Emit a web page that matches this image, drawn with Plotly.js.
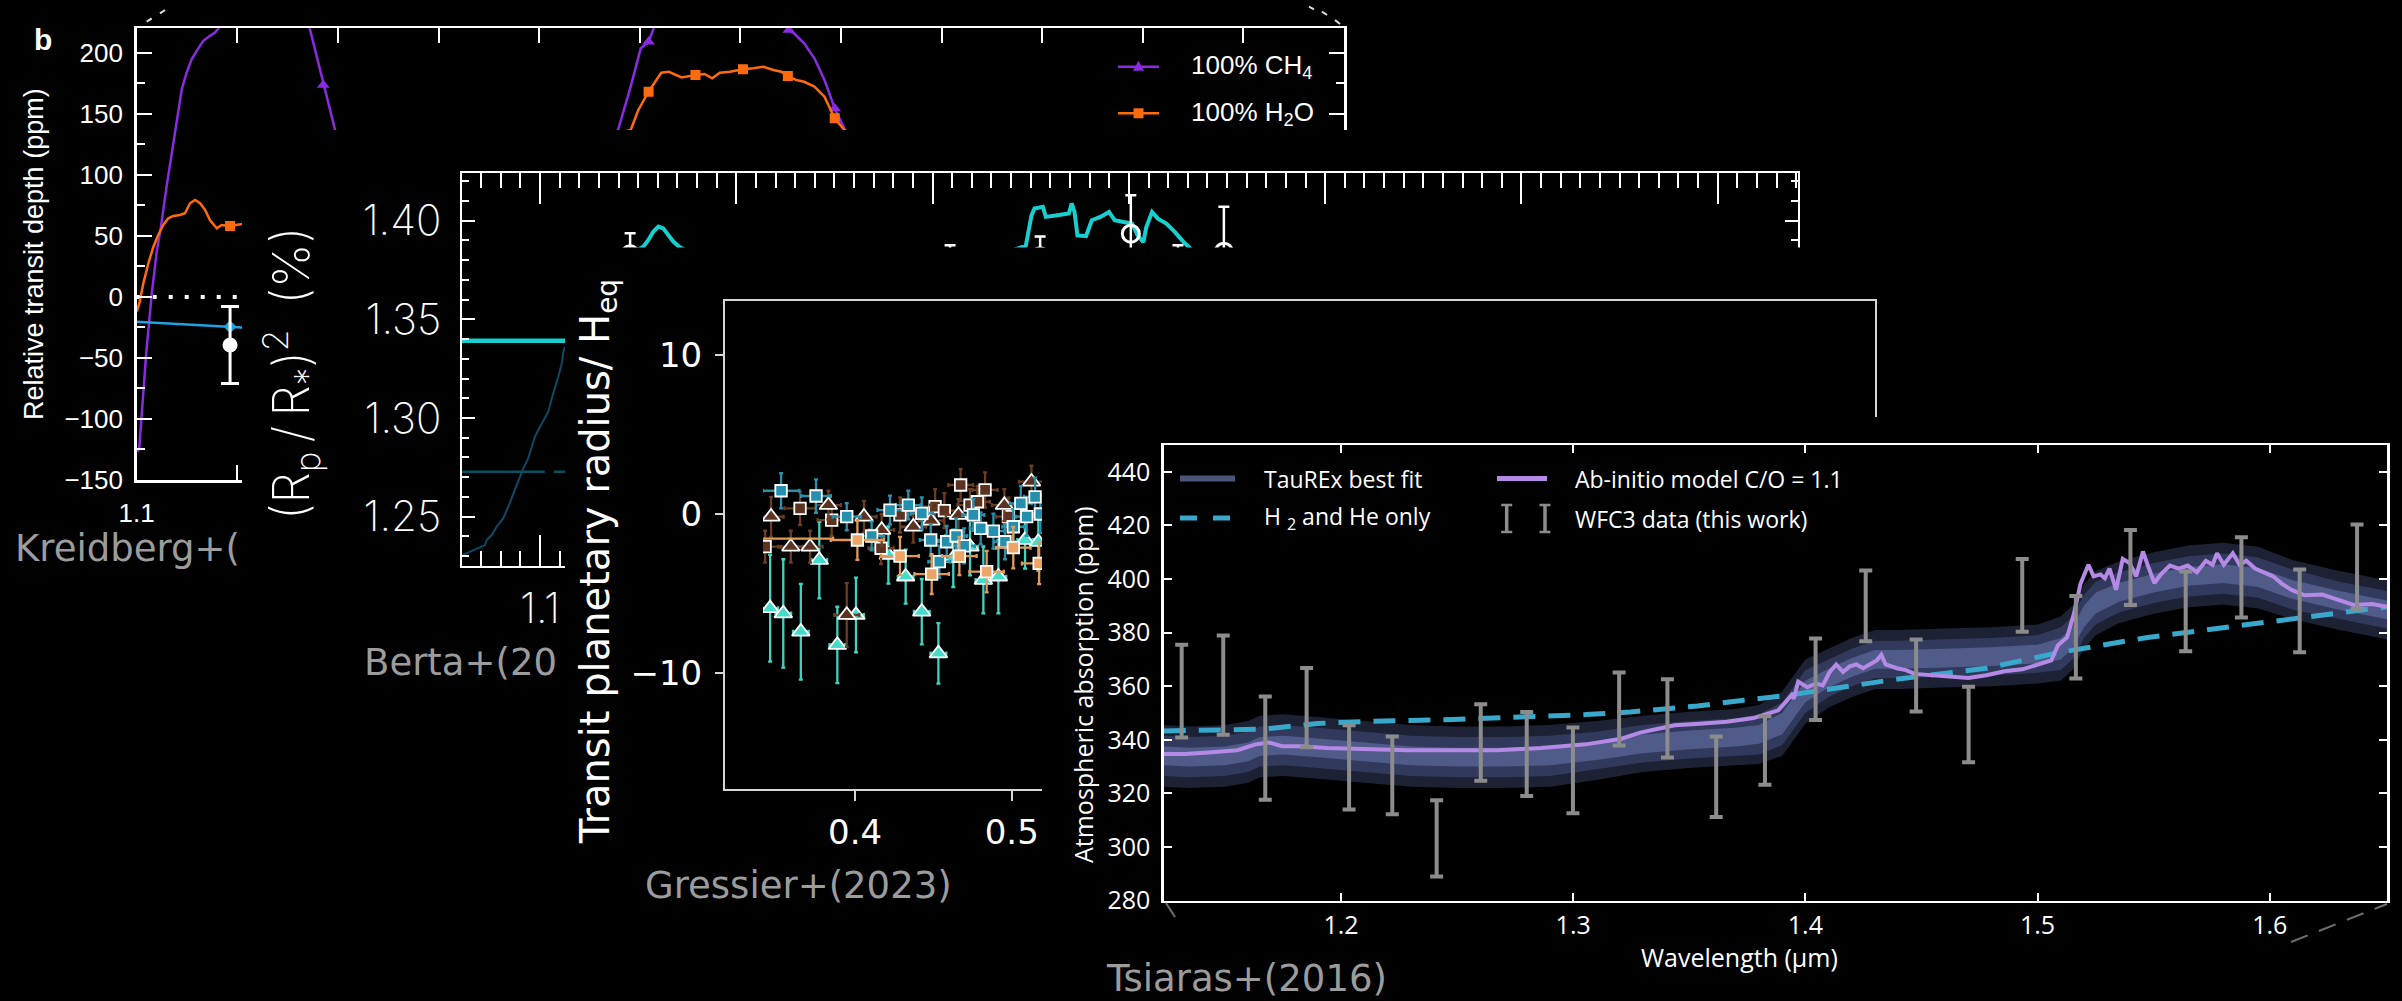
<!DOCTYPE html>
<html>
<head>
<meta charset="utf-8">
<script src="https://cdn.plot.ly/plotly-3.0.1.min.js"></script>
<style>
  html, body { margin: 0; padding: 0; background: #000; }
  #chart { width: 2402px; height: 1001px; }
</style>
</head>
<body>
<div id="chart"></div>
<script>
// ===================== Kreidberg+ (2014): relative transit depth (ppm) =====================
const kCh4X = [1.1005, 1.1013, 1.1046, 1.1061, 1.1074, 1.1099, 1.1121, 1.1149, 1.1182, 1.1224, 1.1248, 1.1273, 1.1298, 1.1331, 1.1364, 1.1389, 1.1406,
               1.152, 1.165, 1.178,
               1.1861, 1.1895, 1.1927, 1.1961, 1.1986,
               1.22, 1.30,
               1.3392, 1.3455, 1.3505, 1.3544, 1.3569,
               1.37, 1.39, 1.41,
               1.4241, 1.4266, 1.4317, 1.4368, 1.4418, 1.4469, 1.4520, 1.47];
const kCh4Y = [-127, -123.3, -48.8, -19.6, 1.4, 36.3, 58.2, 90.9, 126.4, 170.1, 183.7, 194.6, 201.5, 209.7, 213.8, 216.5, 219.8,
               248, 262, 244,
               219.2, 196.7, 173.5, 153, 136.7,
               90, 95,
               136.7, 172.2, 203.6, 209, 220,
               250, 262, 248,
               218.6, 215.9, 207.7, 195.4, 177.6, 154.4, 136.7, 110];
const kCh4MarkX = [1.1927, 1.3544, 1.4241, 1.4469];
const kCh4MarkY = [173.5, 209, 218.6, 154.4];

const kH2oX = [1.1000, 1.1013, 1.1033, 1.1058, 1.1083, 1.1107, 1.1132, 1.1157, 1.1182, 1.1215, 1.1240, 1.1265, 1.1290, 1.1315, 1.1340, 1.1364, 1.1398, 1.1422, 1.1464, 1.1522,
               1.3455, 1.3493, 1.3544, 1.3582, 1.3607, 1.3645, 1.3683, 1.3708, 1.3777, 1.3822, 1.3860, 1.3898, 1.3949, 1.4013, 1.4064, 1.4114, 1.4165, 1.4203, 1.4236, 1.4279, 1.4317, 1.4368, 1.4418, 1.4469, 1.4520, 1.46];
const kH2oY = [-12, -5.3, 11.1, 27.5, 41.1, 50.7, 58.9, 64.4, 66.3, 67.1, 68.5, 76.7, 79.4, 76.7, 71.2, 63, 56.2, 58.9, 58, 59.7,
               136.7, 153.1, 168.1, 177.6, 183.6, 184.4, 181.7, 179.8, 181.7, 182.6, 179, 183.6, 184.4, 186.4, 187.2, 188.5, 185.8, 184.4, 180.9, 177.6, 176.2, 172.2, 164, 146.3, 136.1, 120];
const kH2oMarkX = [1.1464, 1.3544, 1.3777, 1.4013, 1.4236, 1.4469];
const kH2oMarkY = [58, 168.1, 181.7, 186.4, 180.9, 146.3];

const kFlatX = [1.1000, 1.1464, 1.1522, 1.17];
const kFlatY = [-20.3, -24.5, -25, -25.5];
const kFlatMarkX = [1.1464];
const kFlatMarkY = [-24.5];

const kDataX = [1.1464];
const kDataY = [-39.4];
const kDataErr = [31.6];

const kZeroX = [1.1, 1.7];
const kZeroY = [0, 0];

const kXTickVals = [1.1];
const kXTickText = ['1.1'];

// ===================== Berta+ (2012): (Rp/R*)^2 in % =====================
const bFlatX = [1.0601, 1.2];
const bFlatY = [1.3392, 1.3392];
const bRefX = [1.0601, 1.2];
const bRefY = [1.2728, 1.2728];
const bRiseX = [1.0606, 1.0643, 1.0686, 1.0720, 1.0728, 1.0754, 1.0779, 1.0813, 1.0838, 1.0864, 1.0889, 1.0915, 1.0940, 1.0957, 1.0974, 1.1000, 1.1025, 1.1042, 1.1060, 1.1076, 1.1093, 1.1111, 1.1119, 1.1127];
const bRiseY = [1.2306, 1.2322, 1.2340, 1.2356, 1.2382, 1.2407, 1.2449, 1.2492, 1.2550, 1.2618, 1.2686, 1.2745, 1.2796, 1.2855, 1.2905, 1.2956, 1.2998, 1.3032, 1.3100, 1.3150, 1.3209, 1.3277, 1.3336, 1.3361];
const bModelX = [1.125, 1.1526, 1.1552, 1.1577, 1.1603, 1.1628, 1.1653, 1.1679, 1.1713, 1.20, 1.30,
                 1.3475, 1.3504, 1.3519, 1.3562, 1.3577, 1.3636, 1.3694, 1.3709, 1.3723, 1.3738, 1.3782, 1.3811, 1.3855, 1.3899, 1.3928, 1.3972, 1.4016, 1.4045, 1.4074, 1.4089, 1.4118, 1.4148, 1.4191, 1.4235, 1.4279, 1.44];
const bModelY = [1.372, 1.3868, 1.3902, 1.3944, 1.3970, 1.3961, 1.3928, 1.3894, 1.3865, 1.372, 1.370,
                 1.3874, 1.4027, 1.4061, 1.4070, 1.4019, 1.4027, 1.4036, 1.4087, 1.4044, 1.3925, 1.3922, 1.4002, 1.4019, 1.4044, 1.4002, 1.3993, 1.3985, 1.3925, 1.3891, 1.3968, 1.4044, 1.4010, 1.3985, 1.3942, 1.3891, 1.378];
const bDataX = [1.1459, 1.3089, 1.3548, 1.4010, 1.4250, 1.4484];
const bDataY = [1.3830, 1.3780, 1.3820, 1.3934, 1.3780, 1.3843];
const bDataErr = [0.0106, 0.0095, 0.0100, 0.0195, 0.0095, 0.0227];

const bXTickVals = [1.1, 1.2, 1.3, 1.4, 1.5, 1.6, 1.7];
const bXTickText = ['1.1', '', '', '', '', '', ''];

// ===================== Gressier+ (2023): transit radius in scale heights =====================
const gTurqX = [0.3458, 0.3542, 0.3654, 0.3772, 0.3887, 0.4006, 0.4213, 0.4323, 0.4426, 0.4532, 0.4627, 0.4734, 0.4819, 0.4915, 0.5085, 0.5170];
const gTurqY = [-5.92, -6.24, -7.39, -2.89, -8.22, -6.34, -2.57, -3.93, -6.13, -8.75, -2.78, -2.05, -4.14, -3.93, -1.63, -1.76];
const gTurqEy = [3.35, 3.4, 3.0, 2.4, 2.4, 2.35, 1.8, 1.7, 2.05, 1.9, 1.8, 1.8, 2.1, 2.3, 1.8, 1.8];
const gTurqEx = [0.005, 0.005, 0.005, 0.005, 0.005, 0.005, 0.005, 0.005, 0.005, 0.005, 0.005, 0.005, 0.005, 0.005, 0.005, 0.005];

const gBrownSqX = [0.3426, 0.3649, 0.3851, 0.4166, 0.4287, 0.4511, 0.4570, 0.4674, 0.4734, 0.4781, 0.4830, 0.4979];
const gBrownSqY = [-2.05, 0.36, -0.38, -2.15, -0.06, 0.46, 0.21, 1.82, 0.56, 0.77, 1.51, -0.17];
const gBrownSqEy = [1.0, 1.05, 1.0, 1.0, 1.1, 1.1, 1.1, 1.0, 1.0, 1.0, 1.1, 1.2];
const gBrownSqEx = [0.010, 0.010, 0.009, 0.008, 0.008, 0.008, 0.008, 0.008, 0.008, 0.008, 0.008, 0.008];

const gBrownTriX = [0.3464, 0.3590, 0.3713, 0.3830, 0.3947, 0.4057, 0.4170, 0.4372, 0.4485, 0.4660, 0.4953, 0.5126];
const gBrownTriY = [-0.17, -2.05, -2.05, 0.56, -6.34, -0.17, -1.00, -0.80, -0.42, -0.06, 0.56, 2.03];
const gBrownTriEy = [1.25, 1.0, 1.0, 0.9, 2.0, 1.0, 1.0, 1.0, 1.0, 1.0, 1.0, 1.0];
const gBrownTriEx = [0.008, 0.008, 0.008, 0.008, 0.008, 0.008, 0.008, 0.008, 0.008, 0.008, 0.008, 0.008];

const gTealX = [0.3528, 0.3751, 0.3947, 0.4106, 0.4223, 0.4340, 0.4426, 0.4483, 0.4538, 0.4585, 0.4645, 0.4696, 0.4755, 0.4802, 0.4883, 0.4957, 0.5010, 0.5058, 0.5096, 0.5149, 0.5183];
const gTealY = [1.46, 1.13, -0.17, -1.38, 0.25, 0.56, 0.04, -1.63, -2.99, -1.74, -1.38, -2.00, -0.06, -0.90, -1.07, -1.74, -0.80, 0.67, -0.17, 1.08, 0.00];
const gTealEy = [1.1, 1.05, 0.85, 0.9, 0.9, 0.9, 1.0, 1.0, 1.0, 1.0, 1.1, 1.1, 1.0, 1.0, 1.1, 1.1, 1.1, 1.1, 1.2, 1.2, 1.2];
const gTealEx = [0.0117, 0.0095, 0.009, 0.008, 0.008, 0.008, 0.007, 0.007, 0.007, 0.007, 0.007, 0.007, 0.007, 0.007, 0.007, 0.007, 0.007, 0.007, 0.007, 0.007, 0.007];

const gOrangeX = [0.330, 0.4015, 0.4287, 0.4489, 0.4666, 0.4840, 0.5010, 0.5175];
const gOrangeY = [-1.55, -1.63, -2.64, -3.77, -2.64, -3.62, -2.11, -3.10];
const gOrangeEy = [1.0, 1.25, 1.2, 1.25, 1.2, 1.3, 1.3, 1.3];
const gOrangeEx = [0.056, 0.017, 0.012, 0.011, 0.011, 0.011, 0.011, 0.011];

const gXTickVals = [0.4, 0.5];
const gXTickText = ['0.4', '0.5'];

// ===================== Tsiaras+ (2016): atmospheric absorption (ppm) =====================
const tauX   = [1.1237, 1.135, 1.15, 1.16, 1.165, 1.175, 1.19, 1.21, 1.23, 1.25, 1.27, 1.29, 1.31, 1.33, 1.35, 1.37, 1.38, 1.39, 1.395, 1.40, 1.41, 1.42, 1.43, 1.44, 1.46, 1.48, 1.50, 1.51, 1.515, 1.52, 1.525, 1.535, 1.55, 1.565, 1.58, 1.595, 1.61, 1.63, 1.6505];
const tauMid = [334, 333.5, 334, 335.5, 337.5, 338, 337, 335.5, 334, 333.5, 333.5, 334, 336, 338.5, 340, 341, 342, 346, 352, 358, 363, 367, 370, 370, 370.5, 371, 372, 374, 378, 386, 391, 395, 398.5, 401, 402, 400.5, 396, 392, 388.5];
const tauW1  = [3.5, 3.5, 3.5, 3.5, 3.5, 3.5, 3.5, 3.5, 3.5, 3.5, 3.5, 3.5, 3.5, 3.5, 3.5, 3.5, 3.5, 4, 4, 4, 3.5, 3.5, 3.5, 3.5, 3.5, 3.5, 3.5, 4, 4, 4, 4, 3.5, 3.5, 3.5, 3.5, 3.5, 3.5, 3.5, 3.5];
const tauW2  = [7.5, 7.5, 7.5, 7.5, 7.5, 7.5, 7.5, 7.5, 7.5, 7.5, 7.5, 7.5, 7, 7, 7, 7, 7.5, 8, 8, 8, 7, 7, 7, 7, 7, 7, 7, 8, 8, 8, 8, 7.5, 7.5, 7.5, 7.5, 7.5, 7.5, 7, 7];
const tauW3  = [11.5, 11.5, 11.5, 11.5, 11.5, 11.5, 11.5, 11.5, 11.5, 11.5, 11.5, 11.5, 11, 10.5, 10.5, 10.5, 11, 12, 12, 12, 11, 11, 11, 11, 11, 11, 11, 12, 12, 12, 12, 11.5, 11.5, 11.5, 11.5, 11.5, 11, 11, 11];

const abX = [1.1237, 1.1328, 1.1415, 1.1554, 1.1632, 1.1690, 1.1746, 1.1824, 1.1939, 1.2093, 1.2285, 1.2478, 1.2670, 1.2862, 1.3054, 1.3208, 1.3285, 1.3361, 1.3438, 1.3545, 1.3662, 1.3777, 1.3835, 1.3883, 1.3912, 1.3941, 1.3950, 1.3969, 1.4008, 1.4046, 1.4075, 1.4105, 1.4133, 1.4162, 1.4191, 1.4220, 1.4249, 1.4278, 1.4307, 1.4327, 1.4346, 1.4394, 1.4433, 1.4471, 1.4548, 1.4625, 1.4702, 1.4780, 1.4857, 1.4934, 1.5011, 1.5059, 1.5088, 1.5127, 1.5156, 1.5185, 1.5219, 1.5242, 1.5271, 1.5290, 1.5310, 1.5338, 1.5367, 1.5396, 1.5425, 1.5454, 1.5474, 1.5503, 1.5531, 1.5570, 1.5609, 1.5647, 1.5686, 1.5725, 1.5754, 1.5773, 1.5802, 1.5841, 1.5870, 1.5899, 1.5937, 1.5976, 1.6014, 1.6053, 1.6092, 1.6150, 1.6227, 1.6285, 1.6362, 1.6441, 1.6505];
const abY = [334.7, 334.7, 335.2, 336.1, 338.3, 339.0, 337.6, 337.6, 336.9, 336.6, 336.1, 336.1, 336.1, 336.9, 338.3, 340.4, 342.6, 344.0, 345.4, 346.0, 346.7, 348.1, 349.5, 351.0, 353.8, 356.7, 355.3, 361.7, 359.6, 361.0, 360.3, 365.3, 368.1, 365.3, 367.4, 368.1, 366.7, 368.1, 369.6, 371.7, 368.1, 366.7, 366.0, 364.6, 364.1, 363.8, 363.1, 364.1, 365.6, 366.3, 368.1, 369.6, 375.3, 378.2, 386.8, 398.2, 405.3, 401.0, 401.7, 400.3, 403.9, 396.0, 407.5, 406.0, 401.0, 410.3, 405.3, 398.5, 401.7, 405.0, 403.9, 405.0, 402.5, 406.8, 405.3, 409.6, 405.3, 409.6, 405.3, 406.8, 403.9, 402.5, 401.0, 398.2, 396.0, 393.9, 394.2, 392.5, 390.3, 390.7, 389.6];

const h2X = [1.1237, 1.167, 1.19, 1.2093, 1.2478, 1.2766, 1.3054, 1.3246, 1.3535, 1.3727, 1.3932, 1.4375, 1.478, 1.5088, 1.5474, 1.586, 1.6245, 1.6505];
const h2Y = [343.3, 344.0, 346.1, 346.8, 347.6, 348.3, 349.4, 350.4, 352.6, 354.7, 356.7, 362.4, 366.7, 372.5, 378.2, 382.5, 386.8, 389.6];

const tErrX = [1.1314, 1.1493, 1.1674, 1.1852, 1.2035, 1.2221, 1.2412, 1.2602, 1.2800, 1.2999, 1.3198, 1.3406, 1.3616, 1.3826, 1.4044, 1.4260, 1.4477, 1.4703, 1.4934, 1.5165, 1.5400, 1.5638, 1.5878, 1.6129, 1.6376];
const tErrY = [358.2, 360.4, 336.9, 352.0, 329.7, 326.7, 303.2, 339.0, 334.7, 328.6, 351.5, 348.0, 326.2, 336.0, 362.6, 390.0, 364.0, 345.7, 393.9, 378.3, 404.3, 387.9, 400.6, 388.1, 404.6];
const tErrSize = [17.3, 18.5, 19.3, 14.8, 15.7, 14.5, 14.2, 14.3, 15.7, 16.0, 13.6, 14.6, 15.0, 12.8, 15.2, 13.2, 13.4, 14.1, 13.6, 15.4, 14.0, 14.9, 15.0, 15.4, 15.7];

// ===================== page geometry helpers (pixels -> paper fractions) =====================
const W = 2402, H = 1001;
const px = v => v / W;
const py = v => 1 - v / H;
function box(l, t, r, b) { return { x: [px(l), px(r)], y: [py(b), py(t)] }; }

// panel boxes; the "cover" boxes are blank panels that hide what lies behind the next panel
const kBox   = box(136.7, 28.3, 1344, 480);
const bCover = box(242, 130, W, H);
const bBox   = box(461.7, 172.7, 1798, 566);
const gCover = box(565, 247.5, W, H);
const gBoxPx = { l: 725, t: 301, r: 1875, b: 789 };
const gBox   = box(gBoxPx.l, gBoxPx.t, gBoxPx.r, gBoxPx.b);
const gClipPx = { l: 763, t: 462, r: 1042, b: 700 };
const gClip  = box(gClipPx.l, gClipPx.t, gClipPx.r, gClipPx.b);
const tCover = box(1042, 417, W, H);
const tBox   = box(1163.8, 445, 2387, 900.6);

const kXRange = [1.1, 1.7], kYRange = [-150, 220];
const bXRange = [1.0601, 1.7409], bYRange = [1.225, 1.4243];
const gXRange = [0.317, 1.051], gYRange = [-17.26, 13.37];
const tXRange = [1.1237, 1.6505], tYRange = [280, 450];

// the Gressier points sit in a cropped window of the panel, so that window gets its own axes on the same scale
const gxAt = p => gXRange[0] + (p - gBoxPx.l) / (gBoxPx.r - gBoxPx.l) * (gXRange[1] - gXRange[0]);
const gyAt = p => gYRange[1] - (p - gBoxPx.t) / (gBoxPx.b - gBoxPx.t) * (gYRange[1] - gYRange[0]);
const gClipXRange = [gxAt(gClipPx.l), gxAt(gClipPx.r)];
const gClipYRange = [gyAt(gClipPx.b), gyAt(gClipPx.t)];

// ===================== styles =====================
const FONT_K = 'Liberation Sans, Arial, sans-serif';
const FONT_B = 'DejaVu Sans ExtraLight, Inter, DejaVu Sans, sans-serif';
const FONT_G = 'DejaVu Sans, sans-serif';
const FONT_T = 'Open Sans, Noto Sans, sans-serif';
const FONT_REF = 'DejaVu Sans, sans-serif';

const PURPLE = '#8a2be2', ORANGE = '#ff6a0d', SKY = '#1ea2e2';
const CYAN = '#17cfcf', DEEPTEAL = '#0b4f5e', DEEPBLUE = '#0c4a66';
const TURQ = '#43dcca', BROWN = '#5b3320', TEAL = '#2490ae', SAND = '#eca566';
const BAND1 = '#505b8a', BAND2 = '#313a5c', BAND3 = '#1c2133';
const LAVENDER = '#b48ae6', DASHBLUE = '#38a8cc', ERRGRAY = '#8c8c8c';

function blank(id) {
  return { type: 'scatter', x: [], y: [], xaxis: 'x' + id, yaxis: 'y' + id, showlegend: false, hoverinfo: 'skip' };
}
function hiddenAxis(domain, anchor) {
  return { domain: domain, anchor: anchor, visible: false, range: [0, 1], fixedrange: true };
}
function boxAxis(extra) {
  return Object.assign({
    showline: true, linecolor: '#ffffff', linewidth: 2.5, mirror: 'allticks',
    ticks: 'inside', tickcolor: '#ffffff', tickwidth: 2,
    showgrid: false, zeroline: false, fixedrange: true
  }, extra);
}

// ===================== traces =====================
const traces = [];

// Kreidberg panel (xy)
traces.push({ x: kZeroX, y: kZeroY, xaxis: 'x', yaxis: 'y', mode: 'lines', line: { color: '#ffffff', width: 4, dash: '4px,12px' } });
traces.push({ x: kCh4X, y: kCh4Y, xaxis: 'x', yaxis: 'y', mode: 'lines', line: { color: PURPLE, width: 2.5 } });
traces.push({ x: kCh4MarkX, y: kCh4MarkY, xaxis: 'x', yaxis: 'y', mode: 'markers', marker: { symbol: 'triangle-up', size: 11, color: PURPLE } });
traces.push({ x: kH2oX, y: kH2oY, xaxis: 'x', yaxis: 'y', mode: 'lines', line: { color: ORANGE, width: 2.5 } });
traces.push({ x: kH2oMarkX, y: kH2oMarkY, xaxis: 'x', yaxis: 'y', mode: 'markers', marker: { symbol: 'square', size: 10, color: ORANGE } });
traces.push({ x: kFlatX, y: kFlatY, xaxis: 'x', yaxis: 'y', mode: 'lines', line: { color: SKY, width: 2.5 } });
traces.push({ x: kFlatMarkX, y: kFlatMarkY, xaxis: 'x', yaxis: 'y', mode: 'markers', marker: { symbol: 'diamond', size: 10, color: SKY } });
traces.push({ x: kDataX, y: kDataY, xaxis: 'x', yaxis: 'y', mode: 'markers',
  marker: { symbol: 'circle', size: 15, color: '#ffffff' },
  error_y: { type: 'data', array: kDataErr, color: '#ffffff', thickness: 3, width: 9 } });

// blank panel hiding the Kreidberg plot behind Berta
traces.push(blank(2));

// Berta panel (x3y3)
traces.push({ x: bRiseX, y: bRiseY, xaxis: 'x3', yaxis: 'y3', mode: 'lines', line: { color: DEEPBLUE, width: 2 } });
traces.push({ x: bRefX, y: bRefY, xaxis: 'x3', yaxis: 'y3', mode: 'lines', line: { color: DEEPTEAL, width: 2.5, dash: '83px,9px' } });
traces.push({ x: bFlatX, y: bFlatY, xaxis: 'x3', yaxis: 'y3', mode: 'lines', line: { color: CYAN, width: 4.5 } });
traces.push({ x: bModelX, y: bModelY, xaxis: 'x3', yaxis: 'y3', mode: 'lines', line: { color: CYAN, width: 4 } });
traces.push({ x: bDataX, y: bDataY, xaxis: 'x3', yaxis: 'y3', mode: 'markers',
  marker: { symbol: 'circle-open', size: 17, color: '#ffffff', line: { width: 3, color: '#ffffff' } },
  error_y: { type: 'data', array: bDataErr, color: '#ffffff', thickness: 2.5, width: 5.5 } });

// blank panel hiding Berta behind Gressier
traces.push(blank(4));
// Gressier frame (x5y5)
traces.push(blank(5));

// Gressier points (x6y6, cropped window)
function gSeries(x, y, ex, ey, symbol, size, fill, barColor) {
  return { x: x, y: y, xaxis: 'x6', yaxis: 'y6', mode: 'markers',
    marker: { symbol: symbol, size: size, color: fill, line: { color: '#ffffff', width: 1.8 } },
    error_y: { type: 'data', array: ey, color: barColor, thickness: 2.3, width: 2 },
    error_x: { type: 'data', array: ex, color: barColor, thickness: 2.3, width: 2 } };
}
traces.push(gSeries(gTurqX, gTurqY, gTurqEx, gTurqEy, 'triangle-up', 15.5, TURQ, '#3fd3c2'));
traces.push(gSeries(gBrownSqX, gBrownSqY, gBrownSqEx, gBrownSqEy, 'square', 11.5, BROWN, '#6a3d24'));
traces.push(gSeries(gBrownTriX, gBrownTriY, gBrownTriEx, gBrownTriEy, 'triangle-up', 15.5, BROWN, '#6a3d24'));
traces.push(gSeries(gTealX, gTealY, gTealEx, gTealEy, 'square', 11.5, TEAL, '#2a8fab'));
traces.push(gSeries(gOrangeX, gOrangeY, gOrangeEx, gOrangeEy, 'square', 11.5, SAND, '#e39a58'));

// blank panel hiding Gressier behind Tsiaras
traces.push(blank(7));

// Tsiaras panel (x8y8): retrieval bands from widest to narrowest
function band(w, color) {
  const lo = tauMid.map((m, i) => m - w[i]);
  const hi = tauMid.map((m, i) => m + w[i]);
  traces.push({ x: tauX, y: lo, xaxis: 'x8', yaxis: 'y8', mode: 'lines', line: { width: 0, color: color }, fill: 'none' });
  traces.push({ x: tauX, y: hi, xaxis: 'x8', yaxis: 'y8', mode: 'lines', line: { width: 0, color: color }, fill: 'tonexty', fillcolor: color });
}
band(tauW3, BAND3);
band(tauW2, BAND2);
band(tauW1, BAND1);
traces.push({ x: h2X, y: h2Y, xaxis: 'x8', yaxis: 'y8', mode: 'lines', line: { color: DASHBLUE, width: 5, dash: '22px,13px' } });
traces.push({ x: abX, y: abY, xaxis: 'x8', yaxis: 'y8', mode: 'lines', line: { color: LAVENDER, width: 4 } });
traces.push({ x: tErrX, y: tErrY, xaxis: 'x8', yaxis: 'y8', mode: 'markers',
  marker: { size: 1, color: 'rgba(0,0,0,0)' },
  error_y: { type: 'data', array: tErrSize, color: ERRGRAY, thickness: 4, width: 6.5 } });

traces.forEach(t => { t.showlegend = false; t.hoverinfo = 'skip'; });

// ===================== text and legend glyphs =====================
function label(text, x, y, font, extra) {
  return Object.assign({ text: text, x: px(x), y: py(y), xref: 'paper', yref: 'paper', showarrow: false,
    font: font, xanchor: 'center', yanchor: 'middle' }, extra || {});
}
function seg(x0, y0, x1, y1, line) {
  return { type: 'line', xref: 'paper', yref: 'paper', layer: 'above', x0: px(x0), y0: py(y0), x1: px(x1), y1: py(y1), line: line };
}
function tri(cx, cy, s, color) {
  const h = s * 0.9;
  return { type: 'path', xref: 'paper', yref: 'paper', layer: 'above', fillcolor: color, line: { width: 0 },
    path: 'M' + px(cx) + ',' + py(cy - h * 0.6) + ' L' + px(cx - s / 2) + ',' + py(cy + h * 0.4) + ' L' + px(cx + s / 2) + ',' + py(cy + h * 0.4) + ' Z' };
}
function sq(cx, cy, s, color) {
  return { type: 'rect', xref: 'paper', yref: 'paper', layer: 'above', fillcolor: color, line: { width: 0 },
    x0: px(cx - s / 2), x1: px(cx + s / 2), y0: py(cy + s / 2), y1: py(cy - s / 2) };
}
function ibeam(x, y0, y1, color) {
  return [seg(x, y0, x, y1, { color: color, width: 3.5 }),
          seg(x - 5.5, y0, x + 5.5, y0, { color: color, width: 2.5 }),
          seg(x - 5.5, y1, x + 5.5, y1, { color: color, width: 2.5 })];
}

const white = (size, family) => ({ family: family, size: size, color: '#ffffff' });
const refFont = { family: FONT_REF, size: 37, color: '#9c9c9c' };
const bFont = (size) => ({ family: FONT_B, size: size, color: '#ffffff', weight: 200 });

const annotations = [
  label('<b>b</b>', 43, 40, white(30, FONT_K)),
  label('Relative transit depth (ppm)', 34, 254, white(27, FONT_K), { textangle: -90 }),
  label('100% CH<sub>4</sub>', 1189, 66.7, white(26, FONT_K), { xanchor: 'left' }),
  label('100% H<sub>2</sub>O', 1189, 113.3, white(26, FONT_K), { xanchor: 'left' }),
  label('Kreidberg+(', 13, 548, refFont, { xanchor: 'left' }),

  label('(R<sub>p</sub>\u2009/\u2009R<sub>*</sub>)<sup>2</sup>\u2002(%)', 291, 374, bFont(50), { textangle: -90 }),
  label('Berta+(20', 362, 662, refFont, { xanchor: 'left' }),

  label('Transit planetary radius/ H<sub>eq</sub>', 598, 562, white(40, FONT_G), { textangle: -90 }),
  label('Gressier+(2023)', 643, 885, refFont, { xanchor: 'left' }),

  label('Atmospheric absorption (ppm)', 1083, 685, white(25, FONT_T), { textangle: -90 }),
  label('Wavelength (µm)', 1739, 957, white(25, FONT_T)),
  label('TauREx best fit', 1261.7, 479, white(23, FONT_T), { xanchor: 'left' }),
  label('H <sub>2</sub> and He only', 1261.7, 517, white(23, FONT_T), { xanchor: 'left' }),
  label('Ab-initio model C/O = 1.1', 1573.3, 479, white(23, FONT_T), { xanchor: 'left' }),
  label('WFC3 data (this work)', 1573.3, 519, white(23, FONT_T), { xanchor: 'left' }),
  label('Tsiaras+(2016)', 1104, 978, refFont, { xanchor: 'left' })
];

const shapes = [
  // Kreidberg legend glyphs
  seg(1118, 66.7, 1159, 66.7, { color: PURPLE, width: 2.5 }),
  tri(1138.5, 66.7, 11, PURPLE),
  seg(1118, 113.3, 1159, 113.3, { color: ORANGE, width: 2.5 }),
  sq(1138.5, 113.3, 10, ORANGE),
  // Tsiaras legend glyphs
  seg(1180, 478.5, 1235, 478.5, { color: '#4a5578', width: 6 }),
  seg(1180, 518, 1235, 518, { color: DASHBLUE, width: 5, dash: '17px,16px' }),
  seg(1497, 478.5, 1547, 478.5, { color: LAVENDER, width: 5 })
].concat(ibeam(1506.7, 505, 532, ERRGRAY), ibeam(1545, 505, 532, ERRGRAY), [
  // faint dashed arcs at panel corners
  seg(146.7, 21.7, 151.7, 18.3, { color: '#dddddd', width: 2 }),
  seg(160, 13.3, 165, 10, { color: '#dddddd', width: 2 }),
  seg(1309, 6.7, 1314, 9.3, { color: '#dddddd', width: 2 }),
  seg(1322, 11.7, 1327, 15, { color: '#dddddd', width: 2 }),
  seg(1335, 20, 1340, 24, { color: '#dddddd', width: 2 }),
  seg(1166, 903, 1175, 917, { color: '#6e6e6e', width: 2 }),
  seg(2291, 942, 2387, 904, { color: '#6e6e6e', width: 2, dash: '18px,12px' })
]);

// ===================== layout =====================
const layout = {
  width: W, height: H, autosize: false,
  margin: { l: 0, r: 0, t: 0, b: 0, pad: 0 },
  paper_bgcolor: '#000000', plot_bgcolor: '#000000',
  showlegend: false, hovermode: false,

  // Kreidberg: one labelled tick, the rest of the 0.05 ticks come from the minor set
  xaxis: boxAxis({ domain: kBox.x, anchor: 'y', range: kXRange, tickmode: 'array', tickvals: kXTickVals, ticktext: kXTickText, ticklen: 15,
    minor: { ticks: 'inside', tick0: 1.1, dtick: 0.05, ticklen: 15, tickwidth: 2, tickcolor: '#ffffff', showgrid: false },
    tickfont: white(26, FONT_K), ticklabelstandoff: 8 }),
  yaxis: boxAxis({ domain: kBox.y, anchor: 'x', range: kYRange, tick0: -150, dtick: 50, ticklen: 15,
    minor: { ticks: 'inside', tick0: -150, dtick: 25, ticklen: 8, tickwidth: 2, tickcolor: '#ffffff', showgrid: false },
    tickfont: white(26, FONT_K), ticklabelstandoff: 6 }),

  xaxis2: hiddenAxis(bCover.x, 'y2'),
  yaxis2: hiddenAxis(bCover.y, 'x2'),

  // Berta
  xaxis3: boxAxis({ domain: bBox.x, anchor: 'y3', range: bXRange, tickmode: 'array', tickvals: bXTickVals, ticktext: bXTickText, ticklen: 31, linewidth: 2,
    minor: { ticks: 'inside', tick0: 1.1, dtick: 0.01, ticklen: 15, tickwidth: 2, tickcolor: '#ffffff', showgrid: false },
    tickfont: bFont(42), ticklabelstandoff: 5 }),
  yaxis3: boxAxis({ domain: bBox.y, anchor: 'x3', range: bYRange, tick0: 1.25, dtick: 0.05, ticklen: 13, tickformat: '.2f', linewidth: 2,
    minor: { ticks: 'inside', tick0: 1.25, dtick: 0.01, ticklen: 7, tickwidth: 2, tickcolor: '#ffffff', showgrid: false },
    tickfont: bFont(42), ticklabelstandoff: 10 }),

  xaxis4: hiddenAxis(gCover.x, 'y4'),
  yaxis4: hiddenAxis(gCover.y, 'x4'),

  // Gressier
  xaxis5: { domain: gBox.x, anchor: 'y5', range: gXRange, tickmode: 'array', tickvals: gXTickVals, ticktext: gXTickText,
    showline: true, linecolor: '#d6d6d6', linewidth: 2, mirror: true, ticks: 'outside', ticklen: 10, tickwidth: 2, tickcolor: '#d6d6d6',
    showgrid: false, zeroline: false, fixedrange: true, tickfont: white(34, FONT_G), ticklabelstandoff: 2 },
  yaxis5: { domain: gBox.y, anchor: 'x5', range: gYRange, tick0: 0, dtick: 10,
    showline: true, linecolor: '#d6d6d6', linewidth: 2, mirror: true, ticks: 'outside', ticklen: 8, tickwidth: 2, tickcolor: '#d6d6d6',
    showgrid: false, zeroline: false, fixedrange: true, tickfont: white(34, FONT_G), ticklabelstandoff: 6 },

  xaxis6: { domain: gClip.x, anchor: 'y6', range: gClipXRange, visible: false, fixedrange: true },
  yaxis6: { domain: gClip.y, anchor: 'x6', range: gClipYRange, visible: false, fixedrange: true },

  xaxis7: hiddenAxis(tCover.x, 'y7'),
  yaxis7: hiddenAxis(tCover.y, 'x7'),

  // Tsiaras
  xaxis8: boxAxis({ domain: tBox.x, anchor: 'y8', range: tXRange, tick0: 1.2, dtick: 0.1, ticklen: 8, tickformat: '.1f',
    tickfont: white(25, FONT_T), ticklabelstandoff: 1 }),
  yaxis8: boxAxis({ domain: tBox.y, anchor: 'x8', range: tYRange, tick0: 280, dtick: 20, ticklen: 8,
    tickfont: white(25, FONT_T), ticklabelstandoff: 6 }),

  annotations: annotations,
  shapes: shapes
};

Plotly.newPlot('chart', traces, layout, { staticPlot: true, displayModeBar: false });
</script>
</body>
</html>
